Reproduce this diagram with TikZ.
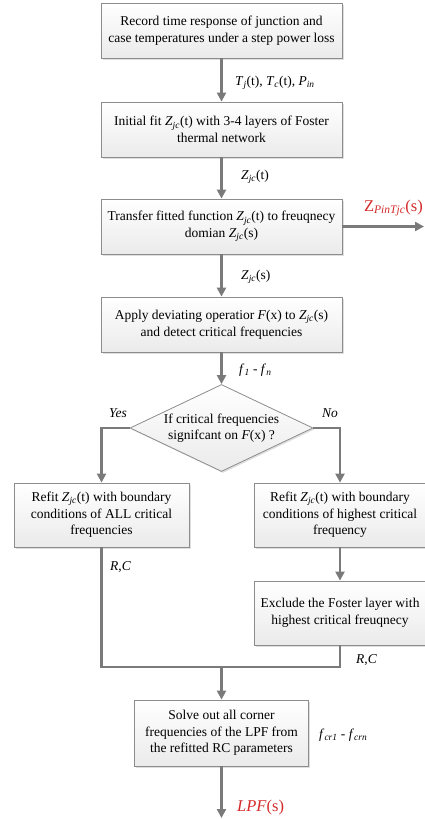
\documentclass[tikz,border=0pt]{standalone}
\usepackage{fontspec}
\setmainfont{Liberation Serif}
\usetikzlibrary{arrows.meta,positioning,shapes.geometric,shadows}
\definecolor{flowgray}{HTML}{7A7A7A}
\definecolor{boxedge}{HTML}{8C8C8C}
\definecolor{outred}{HTML}{D42A2A}
\newcommand{\lowit}[1]{\textsubscript{\textit{#1}}}
\newcommand{\Zjc}{\textit{Z}\lowit{jc}}

\begin{document}
\begin{tikzpicture}[x=1pt, y=-1pt,
  stepbox/.style={draw=boxedge, line width=0.8pt, top color=white, bottom color=gray!16,
    align=center, inner sep=2pt, font=\fontsize{13.5}{16.5}\selectfont,
    drop shadow={shadow xshift=1.5pt, shadow yshift=-1.5pt, opacity=0.25, fill=gray}},
  decision/.style={stepbox, diamond, aspect=2.1, inner sep=0pt},
  flow/.style={draw=flowgray, line width=2.4pt, -{Triangle[length=9pt,width=9pt]}},
  joinline/.style={draw=flowgray, line width=2.4pt},
  lab/.style={font=\fontsize{13.5}{16}\selectfont, inner sep=1pt},
  outlab/.style={font=\fontsize{16.5}{18}\selectfont, text=outred, inner sep=1pt}]
  \useasboundingbox (0,0) rectangle (424,819);

  % Main column
  \node[stepbox, minimum width=241pt, minimum height=55pt] (rec) at (221.5,30.5)
    {Record time response of junction and\\case temperatures under a step power loss};
  \node[stepbox, minimum width=241pt, minimum height=55pt] (fit) at (221.5,129.5)
    {Initial fit \Zjc(t) with 3-4 layers of Foster\\thermal network};
  \node[stepbox, minimum width=241pt, minimum height=55pt] (trans) at (221.5,226.5)
    {Transfer fitted function \Zjc(t) to freuqnecy\\domian \Zjc(s)};
  \node[stepbox, minimum width=241pt, minimum height=55pt] (dev) at (221.5,324.5)
    {Apply deviating operatior \textit{F}(x) to \Zjc(s)\\and detect critical frequencies};
  \node[decision, minimum width=183pt, minimum height=87pt] (crit) at (221.5,428)
    {If critical frequencies\\signifcant on \textit{F}(x) ?};

  % Branches
  \node[stepbox, minimum width=175pt, minimum height=64pt] (refa) at (101.5,515)
    {Refit \Zjc(t) with boundary\\conditions of ALL critical\\frequencies};
  \node[stepbox, minimum width=172pt, minimum height=64pt] (refb) at (340,515)
    {Refit \Zjc(t) with boundary\\conditions of highest critical\\frequency};
  \node[stepbox, minimum width=172pt, minimum height=64pt] (excl) at (340,613)
    {Exclude the Foster layer with\\highest critical freuqnecy};
  \node[stepbox, minimum width=174pt, minimum height=66pt] (solve) at (221.5,733)
    {Solve out all corner\\frequencies of the LPF from\\the refitted RC parameters};

  \coordinate (zout) at (424,226.5);
  \coordinate (merge) at (221.5,667);
  \coordinate (lpfend) at (221.5,818);

  % Connectors
  \draw[flow] (rec) -- (fit);
  \draw[flow] (fit) -- (trans);
  \draw[flow] (trans) -- (dev);
  \draw[flow] (trans.east) -- (zout);
  \draw[flow] (dev) -- (crit);
  \draw[flow] (crit.west) -| (refa);
  \draw[flow] (crit.east) -| (refb);
  \draw[flow] (refb) -- (excl);
  \draw[joinline] (refa.south) |- (merge) -| (excl.south);
  \draw[flow] (merge) -- (solve);
  \draw[flow] (solve) -- (lpfend);

  % Labels
  \node[lab, right] (tin) at (234,83) {\textit{T}\lowit{j}(t), \textit{T}\lowit{c}(t), \textit{P}\lowit{in}};
  \node[lab, right] (zt) at (240,177) {\Zjc(t)};
  \node[outlab, left] (zp) at (424,208) {Z\lowit{PinTjc}(s)};
  \node[lab, right] (zs) at (240,277) {\Zjc(s)};
  \node[lab, right] (fn) at (238,370) {\textit{f}\lowit{1} - \textit{f}\lowit{n}};
  \node[lab] (yes) at (118,413) {\textit{Yes}};
  \node[lab] (no) at (330,413) {\textit{No}};
  \node[lab, right] (rca) at (109,567) {\textit{R},\textit{C}};
  \node[lab, right] (rcb) at (355,660) {\textit{R},\textit{C}};
  \node[lab, right] (fcr) at (318,735) {\textit{f}\lowit{cr1} - \textit{f}\lowit{crn}};
  \node[outlab, right] (lpf) at (236,808) {\textit{LPF}(s)};
\end{tikzpicture}
\end{document}
